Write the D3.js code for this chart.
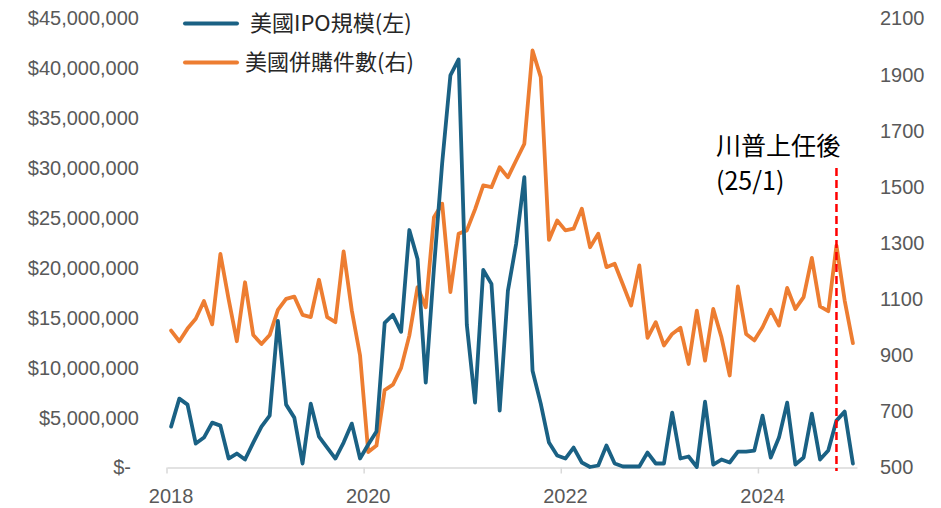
<!DOCTYPE html>
<html>
<head>
<meta charset="utf-8">
<script src="https://cdn.jsdelivr.net/npm/d3@7"></script>
<style>
  html, body { margin: 0; padding: 0; background: #ffffff; }
  svg { display: block; }
</style>
</head>
<body>
<svg id="chart" width="941" height="508"></svg>
<script>
// Monthly categories, April 2018 through March 2025
const months = d3.timeMonth
  .range(new Date(2018, 3, 1), new Date(2025, 3, 1))
  .map(d3.timeFormat("%Y/%-m"));

// US IPO proceeds (USD), left axis
const ipoSize = [
  4.1e6, 6.9e6, 6.3e6, 2.4e6, 3.0e6, 4.5e6, 4.2e6, 0.9e6, 1.4e6, 0.8e6,
  2.5e6, 4.1e6, 5.2e6, 14.7e6, 6.3e6, 5.0e6, 0.4e6, 6.4e6, 3.1e6, 2.0e6,
  0.9e6, 2.5e6, 4.4e6, 0.9e6, 2.3e6, 3.6e6, 14.5e6, 15.3e6, 13.6e6, 23.8e6,
  20.9e6, 8.5e6, 20.0e6, 30.5e6, 39.3e6, 40.9e6, 14.3e6, 6.5e6, 19.8e6, 18.4e6,
  5.7e6, 17.7e6, 22.4e6, 29.1e6, 9.7e6, 6.4e6, 2.5e6, 1.2e6, 0.9e6, 2.0e6,
  0.5e6, 0.05e6, 0.2e6, 2.2e6, 0.4e6, 0.1e6, 0.1e6, 0.1e6, 1.5e6, 0.4e6,
  0.4e6, 5.5e6, 0.9e6, 1.1e6, 0.05e6, 6.6e6, 0.3e6, 0.8e6, 0.5e6, 1.6e6,
  1.6e6, 1.7e6, 5.2e6, 1.0e6, 3.0e6, 6.5e6, 0.3e6, 1.0e6, 5.4e6, 0.8e6,
  1.7e6, 4.7e6, 5.6e6, 0.4e6
];

// US M&A deal count, right axis
const mnaCount = [
  988, 950, 995, 1030, 1093, 1010, 1261, 1100, 950, 1160,
  972, 940, 972, 1062, 1101, 1109, 1044, 1036, 1169, 1036,
  1018, 1270, 1059, 900, 555, 578, 776, 795, 855, 970,
  1143, 1071, 1392, 1440, 1125, 1333, 1345, 1420, 1505, 1499,
  1570, 1534, 1594, 1653, 1986, 1891, 1311, 1380, 1345, 1351,
  1422, 1285, 1333, 1214, 1226, 1152, 1077, 1220, 962, 1018,
  935, 976, 998, 869, 1059, 881, 1065, 964, 828, 1145,
  976, 953, 1000, 1062, 1006, 1140, 1065, 1107, 1247, 1074,
  1057, 1291, 1095, 943
];

const leftTicks = [0, 5e6, 10e6, 15e6, 20e6, 25e6, 30e6, 35e6, 40e6, 45e6];
const rightTicks = [500, 700, 900, 1100, 1300, 1500, 1700, 1900, 2100];
const yearTickMonths = ["2018/4", "2020/4", "2022/4", "2024/4"];
const yearTickLabels = ["2018", "2020", "2022", "2024"];

const seriesNames = ["美國IPO規模(左)", "美國併購件數(右)"];
const markerMonth = "2025/1";
const markerLabel = ["川普上任後", "(25/1)"];

const BLUE = "#1a6184";
const ORANGE = "#ed7d31";
const AXIS_TEXT = "#595959";
const LABEL_FONT = "'Liberation Sans', Arial, sans-serif";
const CJK_FONT = "'Noto Sans CJK TC', 'Noto Sans CJK SC', sans-serif";

const svg = d3.select("#chart");
svg.append("rect").attr("width", 941).attr("height", 508).attr("fill", "#ffffff");

const plot = { left: 167, right: 857, top: 18.5, bottom: 467.5 };

const x = d3.scaleBand().domain(months).range([plot.left, plot.right]).padding(0);
const bw = x.bandwidth();
const cx = m => x(m) + bw / 2;

const yL = d3.scaleLinear().domain([0, 45e6]).range([plot.bottom, plot.top]);
const yR = d3.scaleLinear().domain([500, 2100]).range([plot.bottom, plot.top]);

// Left axis (currency)
const fmtMoney = d3.format(",");
const gL = svg.append("g")
  .attr("transform", `translate(139,0)`)
  .call(d3.axisLeft(yL).tickValues(leftTicks).tickSize(0).tickPadding(0)
    .tickFormat(v => v === 0 ? "$-" : "$" + fmtMoney(v)));
gL.select(".domain").remove();
gL.selectAll("text")
  .attr("fill", AXIS_TEXT).attr("font-size", 20).attr("font-family", LABEL_FONT)
  .attr("dx", v => v === 0 ? -8 : 0);

// Right axis (deal count)
const gR = svg.append("g")
  .attr("transform", `translate(880,0)`)
  .call(d3.axisRight(yR).tickValues(rightTicks).tickSize(0).tickPadding(0)
    .tickFormat(d3.format("d")));
gR.select(".domain").remove();
gR.selectAll("text")
  .attr("fill", AXIS_TEXT).attr("font-size", 20).attr("font-family", LABEL_FONT);

// Bottom axis: ticks on category boundaries, labels on category centres
const gX = svg.append("g")
  .attr("transform", `translate(0,${plot.bottom})`)
  .call(d3.axisBottom(x).tickValues(yearTickMonths).tickSize(6).tickPadding(15)
    .tickSizeOuter(0)
    .tickFormat(m => yearTickLabels[yearTickMonths.indexOf(m)]));
gX.select(".domain").attr("stroke", "#d9d9d9").attr("stroke-width", 1.5);
gX.selectAll(".tick line")
  .attr("stroke", "#d9d9d9").attr("stroke-width", 1.5)
  .attr("x1", -bw / 2).attr("x2", -bw / 2);
gX.selectAll(".tick text")
  .attr("fill", AXIS_TEXT).attr("font-size", 20).attr("font-family", LABEL_FONT);

// Series lines
const lineL = d3.line().x((d, i) => cx(months[i])).y(d => yL(d));
const lineR = d3.line().x((d, i) => cx(months[i])).y(d => yR(d));

svg.append("path").datum(mnaCount)
  .attr("d", lineR).attr("fill", "none")
  .attr("stroke", ORANGE).attr("stroke-width", 3.8)
  .attr("stroke-linejoin", "round").attr("stroke-linecap", "round");

svg.append("path").datum(ipoSize)
  .attr("d", lineL).attr("fill", "none")
  .attr("stroke", BLUE).attr("stroke-width", 3.8)
  .attr("stroke-linejoin", "round").attr("stroke-linecap", "round");

// Inauguration marker
svg.append("line")
  .attr("x1", cx(markerMonth)).attr("x2", cx(markerMonth))
  .attr("y1", 168).attr("y2", 471)
  .attr("stroke", "#ff0000").attr("stroke-width", 2.5)
  .attr("stroke-dasharray", "8,4");

const ann = svg.append("text")
  .attr("font-family", CJK_FONT).attr("font-size", 25).attr("fill", "#000000");
ann.append("tspan").attr("x", 716).attr("y", 155).text(markerLabel[0]);
ann.append("tspan").attr("x", 716).attr("y", 190).text(markerLabel[1]);

// Legend
const legend = [
  { name: seriesNames[0], color: BLUE, y: 23.5, tx: 250 },
  { name: seriesNames[1], color: ORANGE, y: 62.5, tx: 245 }
];
const lg = svg.append("g");
legend.forEach(d => {
  lg.append("line")
    .attr("x1", 185).attr("x2", 237).attr("y1", d.y).attr("y2", d.y)
    .attr("stroke", d.color).attr("stroke-width", 4).attr("stroke-linecap", "round");
  lg.append("text")
    .attr("x", d.tx).attr("y", d.y).attr("dy", "0.36em")
    .attr("font-family", CJK_FONT).attr("font-size", 22).attr("fill", "#262626")
    .text(d.name);
});
</script>
</body>
</html>
